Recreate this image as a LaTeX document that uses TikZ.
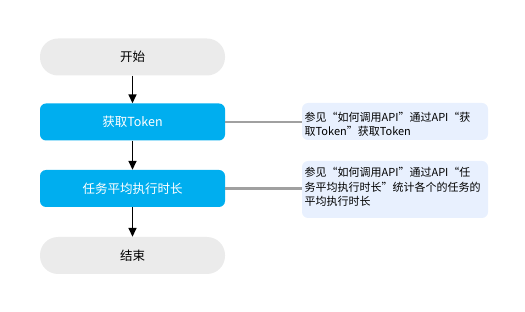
\documentclass[tikz,border=0pt]{standalone}
\usepackage{fontspec}
\setmainfont{Noto Sans CJK SC}
\usetikzlibrary{arrows.meta}
\definecolor{stepblue}{HTML}{00AEEF}
\definecolor{termgray}{HTML}{EBEBEB}
\definecolor{notebg}{HTML}{E8F0FE}
\definecolor{linkgray}{HTML}{A0A0A0}
\newcommand\oqm{\makebox[1em][r]{“}}
\newcommand\cqm{\makebox[1em][l]{”}}
\tikzset{
  termbox/.style={fill=termgray, rounded corners=18pt, minimum width=185pt, minimum height=37pt, inner sep=0pt, font=\fontsize{12.5}{14}\selectfont, text=black},
  stepbox/.style={fill=stepblue, rounded corners=6pt, minimum width=185pt, minimum height=37pt, inner sep=0pt, font=\fontsize{12.5}{14}\selectfont, text=white},
  notebox/.style={fill=notebg, rounded corners=6pt, minimum width=186pt, inner sep=0pt},
  notetext/.style={anchor=north west, align=left, inner sep=0pt, font=\fontsize{11}{14.5}\selectfont, text=black},
  flow/.style={-{Triangle[length=9pt,width=8pt]}, line width=1.6pt, black},
  link/.style={line width=2.2pt, linkgray}
}
\begin{document}
\begin{tikzpicture}[x=1pt,y=-1pt]
\useasboundingbox (0,0) rectangle (525,312);
\node[termbox] (start) at (132.5,57) {开始};
\node[stepbox] (token) at (132.5,122) {获取Token};
\node[stepbox] (avg) at (132.5,188.5) {任务平均执行时长};
\node[termbox] (end) at (132.5,255.5) {结束};
\draw[flow] (start) -- (token);
\draw[flow] (token) -- (avg);
\draw[flow] (avg) -- (end);
\node[notebox, minimum height=37pt] (n1) at (395,121.5) {};
\node[notebox, minimum height=57pt] (n2) at (395,189.5) {};
\node[notetext] (t1) at (304.5,111.5) {参见\oqm 如何调用API\cqm 通过API\oqm 获\\取Token\cqm 获取Token};
\node[notetext] (t2) at (304.5,167) {参见\oqm 如何调用API\cqm 通过API\oqm 任\\务平均执行时长\cqm 统计各个的任务的\\平均执行时长};
\draw[link] (token.east) -- (token.east -| n1.west);
\draw[link] (avg.east) -- (avg.east -| n2.west);
\end{tikzpicture}
\end{document}
